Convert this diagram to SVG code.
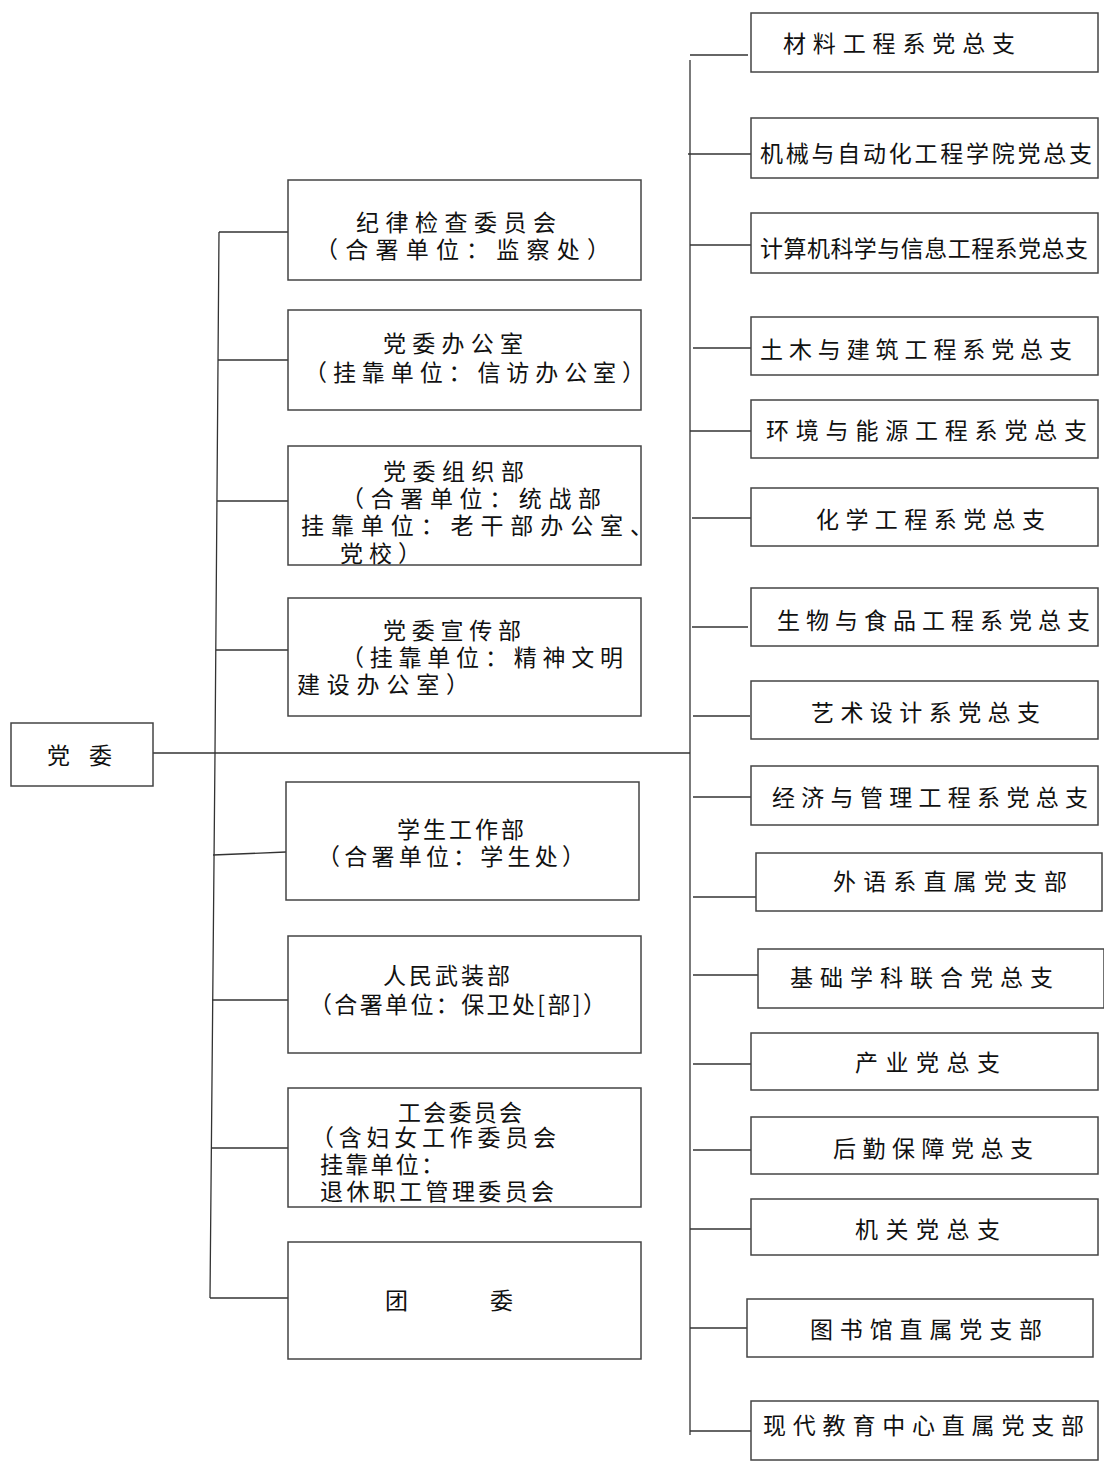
<svg xmlns="http://www.w3.org/2000/svg" width="1104" height="1461" viewBox="0 0 1104 1461">
<style>
.box{fill:#fff;stroke:#444;stroke-width:1.5}
.ln{stroke:#333;stroke-width:1.3;fill:none}
text{font-family:"Noto Sans CJK SC","Noto Sans",sans-serif;font-size:23px;fill:#111;font-weight:400}
</style>
<rect width="1104" height="1461" fill="#fff"/>
<g id="connectors">
<line class="ln" x1="153" y1="753" x2="690" y2="753"/>
<polyline class="ln" points="219,232 215,753 210,1298"/>
<line class="ln" x1="219" y1="232" x2="288" y2="232"/>
<line class="ln" x1="218" y1="360" x2="288" y2="360"/>
<line class="ln" x1="217" y1="501" x2="288" y2="501"/>
<line class="ln" x1="216" y1="650" x2="288" y2="650"/>
<line class="ln" x1="213" y1="855" x2="286" y2="852"/>
<line class="ln" x1="212" y1="1000" x2="288" y2="1000"/>
<line class="ln" x1="211" y1="1148" x2="288" y2="1148"/>
<line class="ln" x1="210" y1="1298" x2="288" y2="1298"/>
<line class="ln" x1="690" y1="60" x2="690" y2="1435"/>
<line class="ln" x1="690" y1="55" x2="748" y2="55"/>
<line class="ln" x1="688" y1="154" x2="751" y2="154"/>
<line class="ln" x1="690" y1="245" x2="751" y2="245"/>
<line class="ln" x1="693" y1="348" x2="751" y2="348"/>
<line class="ln" x1="690" y1="431" x2="751" y2="431"/>
<line class="ln" x1="692" y1="518" x2="751" y2="518"/>
<line class="ln" x1="692" y1="627" x2="748" y2="627"/>
<line class="ln" x1="693" y1="716" x2="750" y2="716"/>
<line class="ln" x1="693" y1="797" x2="755" y2="797"/>
<line class="ln" x1="693" y1="897" x2="756" y2="897"/>
<line class="ln" x1="693" y1="975" x2="758" y2="975"/>
<line class="ln" x1="693" y1="1064" x2="755" y2="1064"/>
<line class="ln" x1="693" y1="1150" x2="755" y2="1150"/>
<line class="ln" x1="690" y1="1229" x2="751" y2="1229"/>
<line class="ln" x1="690" y1="1328" x2="747" y2="1328"/>
<line class="ln" x1="690" y1="1431" x2="751" y2="1431"/>
</g>
<g id="n-root"><rect class="box" x="11" y="723" width="142" height="63"/><text x="47" y="764">党</text><text x="89" y="764">委</text></g>
<g id="n-l1"><rect class="box" x="288" y="180" width="353" height="100"/>
<text x="356" y="231" textLength="200" lengthAdjust="spacing">纪律检查委员会</text>
<text x="315" y="258" textLength="295" lengthAdjust="spacing">（合署单位：监察处）</text></g>
<g id="n-l2"><rect class="box" x="288" y="310" width="353" height="100"/>
<text x="383" y="352" textLength="140" lengthAdjust="spacing">党委办公室</text>
<text x="304" y="381" textLength="341" lengthAdjust="spacing">（挂靠单位：信访办公室）</text></g>
<g id="n-l3"><rect class="box" x="288" y="446" width="353" height="119"/>
<text x="383" y="480" textLength="141" lengthAdjust="spacing">党委组织部</text>
<text x="341" y="507" textLength="260" lengthAdjust="spacing">（合署单位：统战部</text>
<text x="301" y="534" textLength="352" lengthAdjust="spacing">挂靠单位：老干部办公室、</text>
<text x="340" y="562" textLength="81" lengthAdjust="spacing">党校）</text></g>
<g id="n-l4"><rect class="box" x="288" y="598" width="353" height="118"/>
<text x="383" y="639" textLength="138" lengthAdjust="spacing">党委宣传部</text>
<text x="341" y="666" textLength="282" lengthAdjust="spacing">（挂靠单位：精神文明</text>
<text x="297" y="693" textLength="172" lengthAdjust="spacing">建设办公室）</text></g>
<g id="n-l5"><rect class="box" x="286" y="782" width="353" height="118"/>
<text x="397" y="838" textLength="127" lengthAdjust="spacing">学生工作部</text>
<text x="317" y="865" textLength="268" lengthAdjust="spacing">（合署单位：学生处）</text></g>
<g id="n-l6"><rect class="box" x="288" y="936" width="353" height="117"/>
<text x="383" y="984" textLength="127" lengthAdjust="spacing">人民武装部</text>
<text x="309" y="1013" textLength="297" lengthAdjust="spacing">（合署单位：保卫处[部]）</text></g>
<g id="n-l7"><rect class="box" x="288" y="1088" width="353" height="119"/>
<text x="398" y="1121" textLength="124" lengthAdjust="spacing">工会委员会</text>
<text x="311" y="1146" textLength="245" lengthAdjust="spacing">（含妇女工作委员会</text>
<text x="320" y="1173" textLength="124" lengthAdjust="spacing">挂靠单位：</text>
<text x="320" y="1200" textLength="234" lengthAdjust="spacing">退休职工管理委员会</text></g>
<g id="n-l8"><rect class="box" x="288" y="1242" width="353" height="117"/>
<text x="385" y="1309">团</text><text x="490" y="1309">委</text></g>
<g id="n-r1"><rect class="box" x="751" y="13" width="347" height="59"/><text x="783" y="52" textLength="232" lengthAdjust="spacing">材料工程系党总支</text></g>
<g id="n-r2"><rect class="box" x="751" y="118" width="347" height="60"/><text x="760" y="162" textLength="332" lengthAdjust="spacing">机械与自动化工程学院党总支</text></g>
<g id="n-r3"><rect class="box" x="751" y="213" width="347" height="60"/><text x="760" y="257" textLength="328" lengthAdjust="spacing">计算机科学与信息工程系党总支</text></g>
<g id="n-r4"><rect class="box" x="751" y="317" width="347" height="58"/><text x="760" y="358" textLength="312" lengthAdjust="spacing">土木与建筑工程系党总支</text></g>
<g id="n-r5"><rect class="box" x="751" y="400" width="347" height="58"/><text x="766" y="439" textLength="321" lengthAdjust="spacing">环境与能源工程系党总支</text></g>
<g id="n-r6"><rect class="box" x="751" y="488" width="347" height="58"/><text x="816" y="528" textLength="229" lengthAdjust="spacing">化学工程系党总支</text></g>
<g id="n-r7"><rect class="box" x="751" y="588" width="347" height="58"/><text x="777" y="629" textLength="313" lengthAdjust="spacing">生物与食品工程系党总支</text></g>
<g id="n-r8"><rect class="box" x="751" y="681" width="347" height="58"/><text x="811" y="721" textLength="229" lengthAdjust="spacing">艺术设计系党总支</text></g>
<g id="n-r9"><rect class="box" x="751" y="766" width="347" height="59"/><text x="772" y="806" textLength="316" lengthAdjust="spacing">经济与管理工程系党总支</text></g>
<g id="n-r10"><rect class="box" x="756" y="853" width="346" height="58"/><text x="833" y="890" textLength="234" lengthAdjust="spacing">外语系直属党支部</text></g>
<g id="n-r11"><rect class="box" x="758" y="949" width="346" height="59"/><text x="790" y="986" textLength="263" lengthAdjust="spacing">基础学科联合党总支</text></g>
<g id="n-r12"><rect class="box" x="751" y="1033" width="347" height="57"/><text x="855" y="1071" textLength="145" lengthAdjust="spacing">产业党总支</text></g>
<g id="n-r13"><rect class="box" x="751" y="1117" width="347" height="57"/><text x="833" y="1157" textLength="200" lengthAdjust="spacing">后勤保障党总支</text></g>
<g id="n-r14"><rect class="box" x="751" y="1199" width="347" height="56"/><text x="855" y="1238" textLength="145" lengthAdjust="spacing">机关党总支</text></g>
<g id="n-r15"><rect class="box" x="747" y="1299" width="346" height="58"/><text x="810" y="1338" textLength="232" lengthAdjust="spacing">图书馆直属党支部</text></g>
<g id="n-r16"><rect class="box" x="751" y="1401" width="347" height="59"/><text x="763" y="1434" textLength="321" lengthAdjust="spacing">现代教育中心直属党支部</text></g>
</svg>
